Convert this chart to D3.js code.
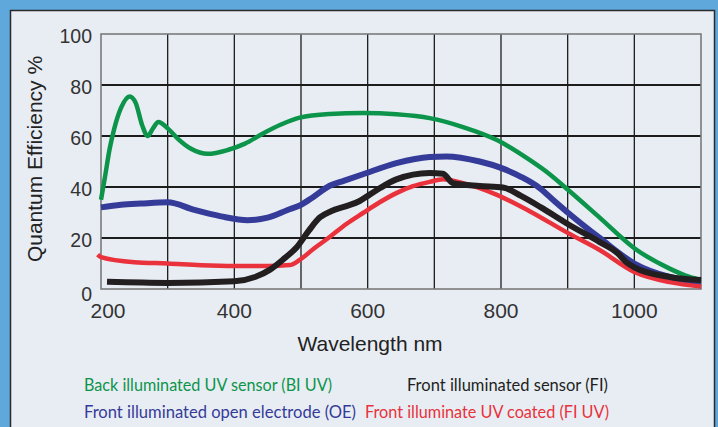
<!DOCTYPE html>
<html>
<head>
<meta charset="utf-8">
<script src="https://cdn.jsdelivr.net/npm/d3@7"></script>
<style>
  body { margin: 0; background: #5fa8dc; }
  svg { display: block; }
</style>
</head>
<body>
<svg id="chart" width="718" height="427"></svg>
<script>
// data: [wavelength nm, QE %]
var biUV = [[200,35],[206,44],[213,55],[220,63],[230,71],[243,75.5],[252,73],[262,64],[270,60],[278,63],[286,65.5],[300,63],[315,59],[335,55],[360,53],[390,54.5],[416,57],[443,61],[470,64.5],[498,67.2],[543,68.6],[593,69],[643,68.5],[693,67],[743,63.5],[794,58.4],[843,50.6],[873,45],[900,39],[948,28],[1000,16],[1053,8],[1083,4.7],[1100,3.5]];
var oe = [[200,32],[230,33],[260,33.5],[300,34],[340,31],[380,28.5],[420,27],[450,28],[480,31],[500,33],[518,36],[543,40.5],[565,42.5],[593,45],[643,49.4],[693,51.8],[718,52],[768,50],[800,47.5],[830,44],[858,39.6],[880,34.5],[900,30],[948,20],[1000,10],[1053,4.7],[1100,2.5]];
var fiUV = [[195,13.5],[200,12.5],[250,10.5],[300,10],[350,9.3],[400,9],[450,9],[483,9.4],[498,11.4],[520,16],[543,20.4],[568,25.5],[593,29.8],[618,34],[643,37.6],[668,40.3],[693,42],[713,43],[743,41.5],[793,37],[843,30.5],[900,22],[948,15.3],[1000,6.7],[1053,2.7],[1100,1]];
var fi = [[209,2.8],[300,2.4],[400,3],[431,4.7],[453,7.5],[475,12],[494,16.5],[512,23],[528,28],[545,30.5],[568,32.5],[588,34.5],[603,37],[618,39.5],[643,43],[693,45.5],[713,45.2],[728,41.5],[768,40.4],[803,39.8],[830,36.5],[860,32],[900,25.5],[948,18.4],[975,14],[988,10.5],[1000,8.5],[1053,4.7],[1100,3.5]];

var xTicks = [200, 400, 600, 800, 1000];
var xGrid = [300, 400, 500, 600, 700, 800, 900, 1000];
var yTicks = [0, 20, 40, 60, 80, 100];
var yGrid = [20, 40, 60, 80];

var series = [
  {name: "Back illuminated UV sensor (BI UV)", values: biUV, color: "#0c954a", width: 4.5},
  {name: "Front illuminated open electrode (OE)", values: oe, color: "#353b98", width: 6},
  {name: "Front illuminate UV coated (FI UV)", values: fiUV, color: "#e9323b", width: 4.5},
  {name: "Front illuminated sensor (FI)", values: fi, color: "#231f20", width: 6}
];

(function draw() {

  var svg = d3.select("#chart");

  //panel
  svg.append("rect")
    .attr("x", 10.5).attr("y", 10.5)
    .attr("width", 704).attr("height", 430)
    .attr("fill", "#e8edf4")
    .attr("stroke", "#2a2a2a")
    .attr("stroke-width", 1.5);

  var pLeft = 101, pRight = 701, pTop = 34, pBottom = 289;

  var x = d3.scaleLinear().domain([200, 1100]).range([pLeft, pRight]);
  var y = d3.scaleLinear().domain([0, 100]).range([pBottom, pTop]);

  //grid
  svg.append("g").selectAll("line")
    .data(xGrid).enter().append("line")
    .attr("x1", function(d){ return x(d); })
    .attr("x2", function(d){ return x(d); })
    .attr("y1", pTop).attr("y2", pBottom)
    .attr("stroke", "#1c1c1c").attr("stroke-width", 1.3);

  svg.append("g").selectAll("line")
    .data(yGrid).enter().append("line")
    .attr("x1", pLeft).attr("x2", pRight)
    .attr("y1", function(d){ return y(d); })
    .attr("y2", function(d){ return y(d); })
    .attr("stroke", "#1c1c1c").attr("stroke-width", 2.2);

  //frame
  svg.append("rect")
    .attr("x", pLeft).attr("y", pTop)
    .attr("width", pRight - pLeft).attr("height", pBottom - pTop)
    .attr("fill", "none")
    .attr("stroke", "#7a7a7a")
    .attr("stroke-width", 1.6);

  //curves
  var line = d3.line()
    .x(function(d){ return x(d[0]); })
    .y(function(d){ return y(d[1]); })
    .curve(d3.curveMonotoneX);

  svg.append("g").selectAll("path")
    .data(series).enter().append("path")
    .attr("d", function(d){ return line(d.values); })
    .attr("fill", "none")
    .attr("stroke", function(d){ return d.color; })
    .attr("stroke-width", function(d){ return d.width; })
    .attr("stroke-linejoin", "round");

  //tick labels
  svg.append("g").selectAll("text")
    .data(yTicks).enter().append("text")
    .attr("x", 92)
    .attr("y", function(d){ return y(d) + (d === 0 ? 12 : 9); })
    .attr("text-anchor", "end")
    .attr("font-family", "'Liberation Sans', Arial, sans-serif")
    .attr("font-size", 19.5)
    .attr("fill", "#333")
    .text(function(d){ return d; });

  svg.append("g").selectAll("text")
    .data(xTicks).enter().append("text")
    .attr("x", function(d){ return x(d) + (d === 200 ? 7 : 0); })
    .attr("y", 318)
    .attr("text-anchor", "middle")
    .attr("font-family", "'Liberation Sans', Arial, sans-serif")
    .attr("font-size", 21)
    .attr("fill", "#333")
    .text(function(d){ return d; });

  //axis titles
  svg.append("text")
    .attr("x", 370).attr("y", 351)
    .attr("text-anchor", "middle")
    .attr("font-family", "'Liberation Sans', Arial, sans-serif")
    .attr("font-size", 21)
    .attr("fill", "#222")
    .text("Wavelength nm");

  svg.append("text")
    .attr("transform", "translate(42,159) rotate(-90)")
    .attr("text-anchor", "middle")
    .attr("font-family", "'Liberation Sans', Arial, sans-serif")
    .attr("font-size", 21)
    .attr("fill", "#222")
    .text("Quantum Efficiency %");

  //legend: x, baseline, width
  var legendPos = [[84, 391, 248], [84, 418, 272], [365, 418, 244], [407, 391, 201]];
  svg.append("g").selectAll("text")
    .data(series).enter().append("text")
    .attr("x", function(d, i){ return legendPos[i][0]; })
    .attr("y", function(d, i){ return legendPos[i][1]; })
    .attr("textLength", function(d, i){ return legendPos[i][2]; })
    .attr("lengthAdjust", "spacingAndGlyphs")
    .attr("font-family", "Lato, 'Open Sans', sans-serif")
    .attr("font-size", 17)
    .attr("fill", function(d){ return d.color; })
    .text(function(d){ return d.name; });

})();
</script>
</body>
</html>
